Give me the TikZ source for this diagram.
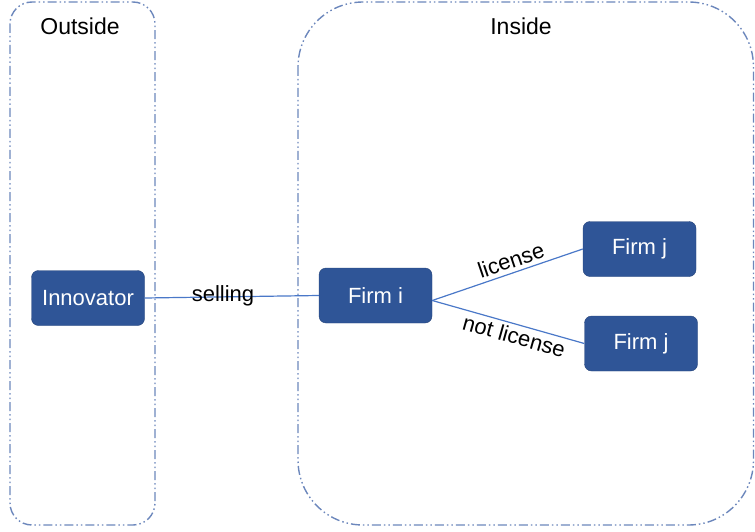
\documentclass[tikz,border=0pt]{standalone}
\usepackage{fontspec}
\setmainfont{Liberation Sans}
\definecolor{frameblue}{HTML}{6C87BC}
\definecolor{boxblue}{HTML}{2F5597}
\definecolor{linkblue}{HTML}{4A78C8}
\tikzset{
  region/.style={draw=frameblue, line width=1.4pt,
    dash pattern=on 9pt off 3pt on 1.5pt off 3pt on 1.5pt off 3pt},
  firmbox/.style={fill=boxblue, draw=boxblue!80!black, line width=0.4pt,
    rounded corners=7pt, text=white, font=\fontsize{22}{24}\selectfont,
    minimum width=113pt, minimum height=55pt, inner sep=0pt},
  link/.style={draw=linkblue, line width=1.2pt},
  edgelabel/.style={font=\fontsize{22}{24}\selectfont, text=black, inner sep=0pt},
  title/.style={font=\fontsize{23}{25}\selectfont, text=black}
}
\begin{document}
\begin{tikzpicture}[x=1pt,y=-1pt]
  \useasboundingbox (0,0) rectangle (755,532);
  % the two regions
  \draw[region, rounded corners=22pt] (10,2) rectangle (155,525);
  \draw[region, rounded corners=65pt] (298,2) rectangle (753.5,525);
  \node[title] (outside) at (80,26) {Outside};
  \node[title] (inside) at (521,26) {Inside};
  % actors
  \node[firmbox] (innov) at (88,298) {Innovator};
  \node[firmbox] (firmi) at (375.5,295.5) {Firm i};
  \node[firmbox] (firmja) at (639.5,249) {Firm j};
  \node[firmbox] (firmjb) at (641,343.5) {Firm j};
  % relations
  \draw[link] (innov.east) -- (firmi.west);
  \node[edgelabel] (sell) at (223,296) {selling};
  \coordinate (fork) at ([yshift=-5pt]firmi.east);
  \draw[link] (fork) -- (firmja.west)
    node[edgelabel, pos=0.55, sloped, above=4pt] (lic) {license};
  \draw[link] (fork) -- (firmjb.west)
    node[edgelabel, pos=0.56, sloped, below=3pt] (nolic) {not license};
\end{tikzpicture}
\end{document}
